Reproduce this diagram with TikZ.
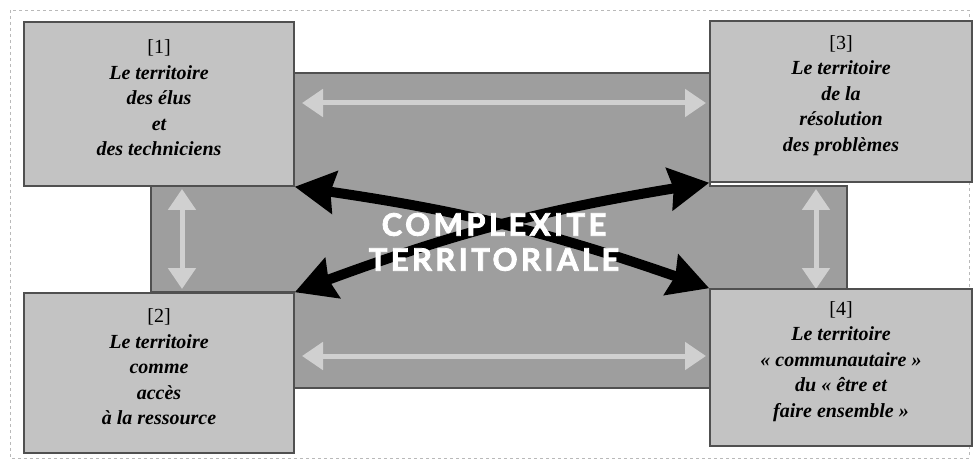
\documentclass[tikz,border=0pt]{standalone}
\usepackage{fontspec}
\setmainfont{Liberation Serif}
\newfontfamily\titlefont[LetterSpace=11,FakeBold=2.5]{Lato}
\usetikzlibrary{arrows.meta,bending}
\definecolor{boxfill}{RGB}{195,195,195}
\definecolor{midfill}{RGB}{158,158,158}
\definecolor{lightarr}{RGB}{208,208,208}
\definecolor{bordercol}{RGB}{80,80,80}
\definecolor{framecol}{RGB}{185,185,185}
\begin{document}
\begin{tikzpicture}[x=1pt,y=-1pt,
  boxshape/.style={draw=bordercol, line width=1.5pt, fill=boxfill, inner sep=0pt},
  boxtext/.style={align=center, inner sep=0pt, font=\fontsize{20}{25.5}\selectfont\bfseries\itshape},
  lightarrow/.style={draw=lightarr, line width=5pt, {Triangle[length=21pt,width=27pt]}-{Triangle[length=21pt,width=27pt]}},
  blackarrow/.style={draw=black, line width=10pt, {Stealth[length=40pt,width=42pt,inset=4pt]}-{Stealth[length=40pt,width=42pt,inset=4pt]}},
  titletext/.style={align=center, text=white, inner sep=0pt, font=\fontsize{31}{35}\selectfont\titlefont\bfseries}
]
\useasboundingbox (0,0) rectangle (973,462);
\draw[framecol, dashed, line width=0.8pt] (10,10) rectangle (969,458);
% central cross
\fill[midfill] (151,186) rectangle (847,292);
\fill[midfill] (294,73) rectangle (710,388);
\draw[bordercol, line width=1.5pt] (294,73) -- (710,73) -- (710,186) -- (847,186) -- (847,292) -- (710,292) -- (710,388) -- (294,388) -- (294,292) -- (151,292) -- (151,186) -- (294,186) -- cycle;
% light arrows
\coordinate (ht1) at (302,103);
\coordinate (ht2) at (706,103);
\coordinate (hb1) at (302,356);
\coordinate (hb2) at (706,356);
\coordinate (vl1) at (182,189);
\coordinate (vl2) at (182,289);
\coordinate (vr1) at (816,189);
\coordinate (vr2) at (816,289);
\draw[lightarrow] (ht1) -- (ht2);
\draw[lightarrow] (hb1) -- (hb2);
\draw[lightarrow] (vl1) -- (vl2);
\draw[lightarrow] (vr1) -- (vr2);
% boxes
\node[boxshape, minimum width=270pt, minimum height=164pt] (b1) at (159,104) {};
\node[boxshape, minimum width=270pt, minimum height=160pt] (b2) at (159,373) {};
\node[boxshape, minimum width=262pt, minimum height=161pt] (b3) at (841,101.5) {};
\node[boxshape, minimum width=262pt, minimum height=157pt] (b4) at (841,367.5) {};
\node[boxtext] (t1) at ([yshift=6pt]b1.center) {{\upshape\mdseries [1]}\\Le territoire\\des élus\\et\\des techniciens};
\node[boxtext] (t2) at ([yshift=6pt]b2.center) {{\upshape\mdseries [2]}\\Le territoire\\comme\\accès\\à la ressource};
\node[boxtext] (t3) at ([yshift=6pt]b3.center) {{\upshape\mdseries [3]}\\Le territoire\\de la\\résolution\\des problèmes};
\node[boxtext] (t4) at ([yshift=6pt]b4.center) {{\upshape\mdseries [4]}\\Le territoire\\« communautaire »\\du « être et\\faire ensemble »};
% black arrows
\draw[blackarrow] (b1.south east) to[bend left=6] (b4.north west);
\draw[blackarrow] (b2.north east) to[bend left=6] (b3.south west);
% title
\node[titletext] (title) at (494,242) {COMPLEXITE\\TERRITORIALE};
\end{tikzpicture}
\end{document}
